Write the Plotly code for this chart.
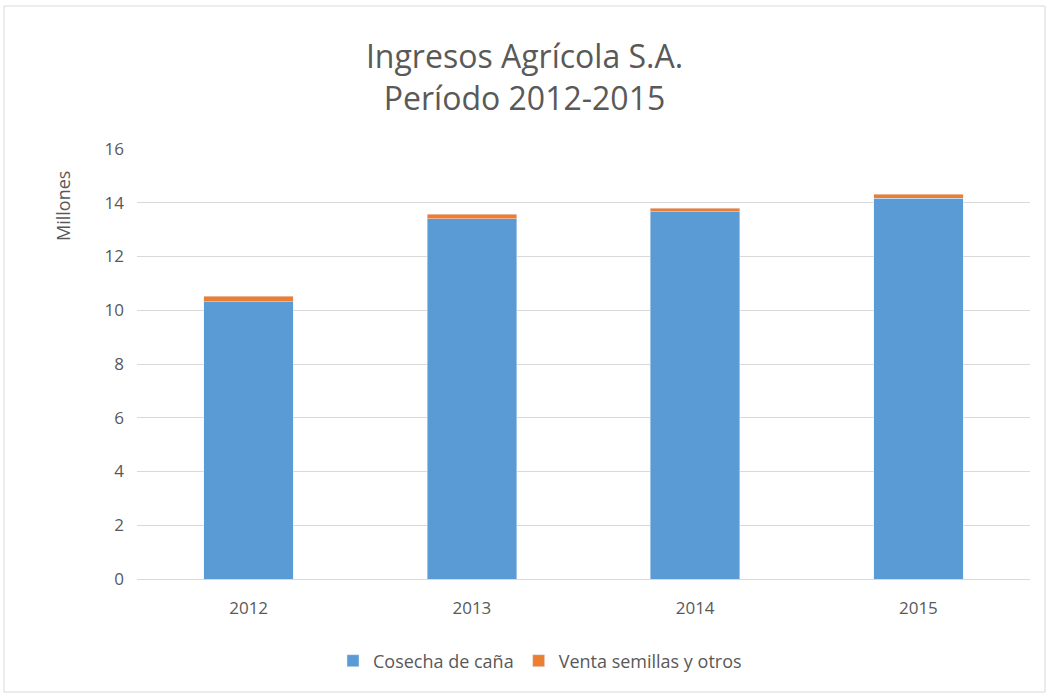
import plotly.graph_objects as go

years = ["2012", "2013", "2014", "2015"]
cosecha = [10.31, 13.41, 13.66, 14.17]
venta = [0.22, 0.16, 0.13, 0.15]

W, H = 1049, 698
L, R, T, B = 137, 19, 149, 119
pw, ph = W - L - R, H - T - B


def px_x(v):
    return (v - L) / pw


def px_y(v):
    return (H - B - v) / ph


GRAY = "#595959"
FONT = "Open Sans, Liberation Sans, sans-serif"

fig = go.Figure()
fig.add_trace(go.Bar(x=years, y=cosecha, name="Cosecha de caña", marker_color="#5b9bd5"))
fig.add_trace(go.Bar(x=years, y=venta, name="Venta semillas y otros", marker_color="#ed7d31"))

fig.update_layout(
    barmode="stack",
    bargap=0.6,
    width=W,
    height=H,
    margin={"l": L, "r": R, "t": T, "b": B},
    paper_bgcolor="white",
    plot_bgcolor="white",
    font={"family": FONT, "color": GRAY, "size": 17},
    title={
        "text": "Ingresos Agrícola S.A.<br>Período 2012-2015",
        "x": 0.5,
        "xanchor": "center",
        "y": 1 - 68 / H,
        "yanchor": "middle",
        "font": {"size": 32, "color": GRAY},
    },
    xaxis={
        "showgrid": False,
        "showline": True,
        "linecolor": "#d9d9d9",
        "ticks": "",
        "tickfont": {"size": 17},
        "ticklabelstandoff": 14,
    },
    yaxis={
        "range": [0, 16],
        "dtick": 2,
        "showgrid": True,
        "gridcolor": "#d9d9d9",
        "zeroline": False,
        "ticks": "",
        "tickfont": {"size": 17},
        "ticklabelstandoff": 12,
    },
    legend={
        "orientation": "h",
        "x": px_x(540),
        "xanchor": "center",
        "y": px_y(661),
        "yanchor": "middle",
        "font": {"size": 18},
        "traceorder": "normal",
        "itemwidth": 30,
    },
    showlegend=True,
)

fig.add_annotation(
    text="Millones",
    textangle=-90,
    xref="paper",
    yref="paper",
    x=px_x(63),
    y=px_y(206),
    xanchor="center",
    yanchor="middle",
    showarrow=False,
    font={"size": 18, "color": GRAY},
)

fig.add_shape(
    type="rect",
    xref="paper",
    yref="paper",
    x0=px_x(4),
    x1=px_x(1045),
    y0=px_y(692),
    y1=px_y(6),
    line={"color": "#d9d9d9", "width": 1},
)

fig.write_html(
    "out.html",
    config={"displayModeBar": False},
    post_script="document.body.style.margin='0';document.body.style.overflow='hidden';",
)
